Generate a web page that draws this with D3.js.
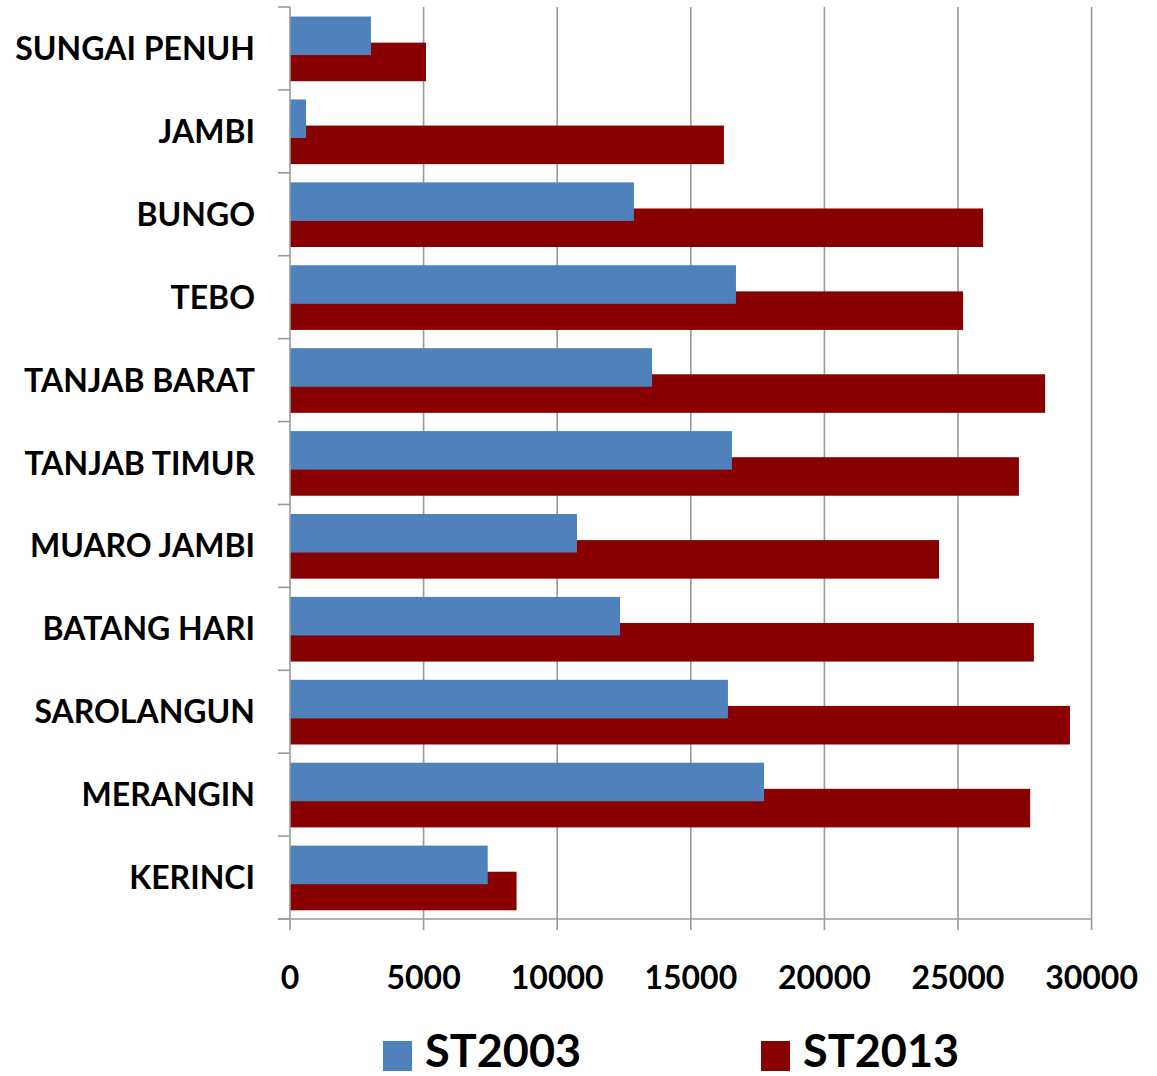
<!DOCTYPE html>
<html>
<head>
<meta charset="utf-8">
<script src="https://cdn.jsdelivr.net/npm/d3@7"></script>
<style>
  html, body { margin: 0; padding: 0; background: #fff; }
  svg { display: block; }
  text { font-family: Lato, "Open Sans", sans-serif; font-weight: 700; fill: #000; }
</style>
</head>
<body>
<svg id="chart" width="1157" height="1076"></svg>
<script>
// Districts / cities, listed top to bottom
const categories = [
  "SUNGAI PENUH", "JAMBI", "BUNGO", "TEBO", "TANJAB BARAT", "TANJAB TIMUR",
  "MUARO JAMBI", "BATANG HARI", "SAROLANGUN", "MERANGIN", "KERINCI"
];
const st2003 = [3030, 600, 12870, 16690, 13550, 16540, 10740, 12350, 16390, 17740, 7400];
const st2013 = [5090, 16240, 25940, 25190, 28260, 27280, 24290, 27840, 29190, 27700, 8480];
const seriesNames = ["ST2003", "ST2013"];
const seriesColors = ["#4F81BD", "#880000"];
const xTicks = [0, 5000, 10000, 15000, 20000, 25000, 30000];

const svg = d3.select("#chart");
const plot = { left: 290, right: 1091.6, top: 7, bottom: 919 };
const gridColor = "#9a9a9a";

const x = d3.scaleLinear().domain([0, 30000]).range([plot.left, plot.right]);
const y = d3.scaleBand().domain(categories).range([plot.top, plot.bottom]).paddingInner(0).paddingOuter(0);
const bw = y.bandwidth();
const barH = bw * 0.465;
const offsets = [bw * 0.115, bw * 0.43];

// vertical gridlines (extend below the axis as tick marks)
svg.append("g").selectAll("line").data(xTicks.slice(1)).join("line")
  .attr("x1", d => x(d)).attr("x2", d => x(d))
  .attr("y1", plot.top).attr("y2", plot.bottom + 11)
  .attr("stroke", gridColor).attr("stroke-width", 1.6);

// bars: ST2013 drawn first so ST2003 sits on top where they overlap
const rows = categories.map((c, i) => ({ c, v: [st2003[i], st2013[i]] }));
[1, 0].forEach(s => {
  svg.append("g").selectAll("rect").data(rows).join("rect")
    .attr("x", x(0))
    .attr("y", d => y(d.c) + offsets[s])
    .attr("width", d => x(d.v[s]) - x(0))
    .attr("height", barH)
    .attr("fill", seriesColors[s]);
});

// category axis (left) with tick marks on band boundaries
const yAxis = svg.append("g");
yAxis.append("line")
  .attr("x1", plot.left).attr("x2", plot.left)
  .attr("y1", plot.top).attr("y2", plot.bottom + 11)
  .attr("stroke", gridColor).attr("stroke-width", 1.6);
const bounds = categories.map(c => y(c)).concat([plot.bottom]);
yAxis.selectAll("line.tk").data(bounds).join("line").attr("class", "tk")
  .attr("x1", plot.left - 12).attr("x2", plot.left)
  .attr("y1", d => d).attr("y2", d => d)
  .attr("stroke", gridColor).attr("stroke-width", 1.6);
yAxis.selectAll("text").data(categories).join("text")
  .attr("x", 255)
  .attr("y", d => y(d) + bw / 2)
  .attr("dy", "0.36em")
  .attr("text-anchor", "end")
  .attr("font-size", 32)
  .text(d => d);

// value axis (bottom)
const xAxis = svg.append("g");
xAxis.append("line")
  .attr("x1", plot.left - 12).attr("x2", plot.right)
  .attr("y1", plot.bottom).attr("y2", plot.bottom)
  .attr("stroke", gridColor).attr("stroke-width", 1.6);
xAxis.selectAll("text").data(xTicks).join("text")
  .attr("x", d => x(d))
  .attr("y", 989)
  .attr("text-anchor", "middle")
  .attr("font-size", 32)
  .text(d => d);

// legend
const legendX = [383, 761];
const legend = svg.append("g");
seriesNames.forEach((name, i) => {
  legend.append("rect")
    .attr("x", legendX[i]).attr("y", 1041)
    .attr("width", 29).attr("height", 30)
    .attr("fill", seriesColors[i]);
  legend.append("text")
    .attr("x", legendX[i] + 42).attr("y", 1067)
    .attr("font-size", 45)
    .text(name);
});
</script>
</body>
</html>
